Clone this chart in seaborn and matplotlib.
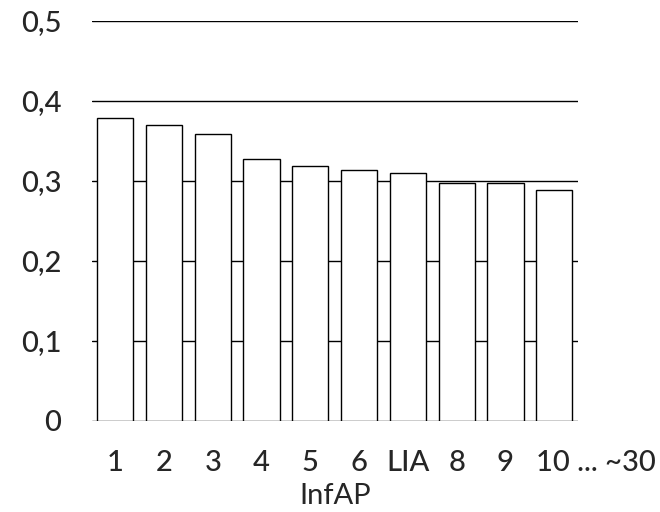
import matplotlib
matplotlib.use('Agg')
import matplotlib.pyplot as plt
import matplotlib.transforms as mtransforms
import seaborn as sns

# values
categories = ['1', '2', '3', '4', '5', '6', 'LIA', '8', '9', '10 ... ~30']
scores = [0.379, 0.370, 0.359, 0.328, 0.319, 0.314, 0.310, 0.298, 0.298, 0.289]
yticks = [0, 0.1, 0.2, 0.3, 0.4, 0.5]
ytick_labels = ['0', '0,1', '0,2', '0,3', '0,4', '0,5']

sns.set_style('white')
plt.rcParams['font.family'] = ['Lato', 'DejaVu Sans']
plt.rcParams['font.weight'] = 'medium'

fig = plt.figure(figsize=(6.6, 5.12), dpi=100)
ax = fig.add_axes([0.139, 0.178, 0.737, 0.781])

sns.barplot(x=categories, y=scores, color='white', edgecolor='black',
            linewidth=1.0, width=0.74, saturation=1, ax=ax, zorder=3)

for y in yticks:
    ax.axhline(y, color='black', linewidth=1.0, zorder=1)

ax.set_xlim(-0.48, 9.49)
ax.set_ylim(0, 0.5)
ax.set_yticks(yticks)
ax.set_yticklabels(ytick_labels)
sns.despine(ax=ax, left=True, bottom=True, top=True, right=True)
ax.tick_params(axis='both', length=0, labelsize=21)
ax.tick_params(axis='y', pad=22)
ax.tick_params(axis='x', pad=21)
ax.set_xlabel('InfAP', fontsize=21, labelpad=5)
ax.set_ylabel('')

# last label: "10" sits under the bar, the rest runs to the right
last = ax.get_xticklabels()[-1]
last.set_horizontalalignment('left')
last.set_transform(last.get_transform() +
                   mtransforms.ScaledTranslation(-18 / 100, 0, fig.dpi_scale_trans))

fig.savefig('out.png', dpi=100)
